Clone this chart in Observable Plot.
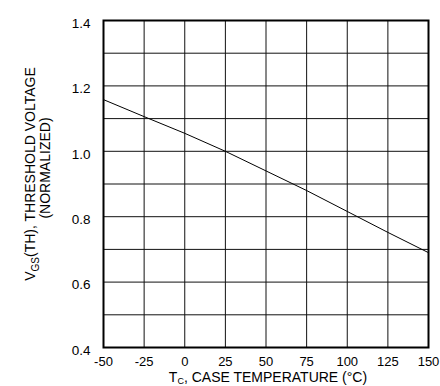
<!DOCTYPE html>
<html><head><meta charset="utf-8">
<script src="https://cdn.jsdelivr.net/npm/d3@7"></script>
<script src="https://cdn.jsdelivr.net/npm/@observablehq/plot@0.6"></script>
<style>body{margin:0;background:#fff} svg{display:block}</style>
</head><body><div id="chart"></div>
<script>
const temps = [-50, -25, 0, 25, 50, 75, 100, 125, 150];
const vth = [1.158, 1.106, 1.055, 1.0, 0.94, 0.88, 0.816, 0.752, 0.69];
const xTicks = [-50, -25, 0, 25, 50, 75, 100, 125, 150];
const yTicks = [0.4, 0.6, 0.8, 1.0, 1.2, 1.4];
const yGrid = [0.4, 0.5, 0.6, 0.7, 0.8, 0.9, 1.0, 1.1, 1.2, 1.3, 1.4];

const data = temps.map((t, i) => ({t, v: vth[i]}));
const font = "'Liberation Sans', Arial, sans-serif";

const svg = Plot.plot({
  width: 440, height: 386,
  marginLeft: 103, marginRight: 12, marginTop: 20, marginBottom: 39,
  style: {fontFamily: font, fontSize: "13px", color: "#000", background: "#fff"},
  x: {domain: [-50, 150]},
  y: {domain: [0.4, 1.4]},
  marks: [
    Plot.gridX(xTicks, {stroke: "#111", strokeOpacity: 1, strokeWidth: 1}),
    Plot.gridY(yGrid, {stroke: "#111", strokeOpacity: 1, strokeWidth: 1}),
    Plot.axisX(xTicks, {tickSize: 0, tickPadding: 9, label: null, fontSize: 13, tickFormat: d => String(d)}),
    Plot.axisY(yTicks, {tickSize: 0, tickPadding: 13, label: null, fontSize: 13.5, tickFormat: d3.format(".1f"), dy: 3}),
    Plot.frame({stroke: "#000", strokeWidth: 2}),
    Plot.line(data, {x: "t", y: "v", stroke: "#000", strokeWidth: 1})
  ]
});
document.getElementById("chart").append(svg);

const s = d3.select(svg);
// x-axis label
const xl = s.append("text")
  .attr("x", 268).attr("y", 382)
  .attr("text-anchor", "middle")
  .attr("font-family", font).attr("font-size", 14).attr("fill", "#000");
xl.append("tspan").text("T");
xl.append("tspan").attr("dy", 2).attr("font-size", 9).text("C");
xl.append("tspan").attr("dy", -2).text(", CASE TEMPERATURE (°C)");

// y-axis label, two lines
const yl1 = s.append("text")
  .attr("transform", "translate(35,174) rotate(-90)")
  .attr("text-anchor", "middle")
  .attr("font-family", font).attr("font-size", 14).attr("fill", "#000");
yl1.append("tspan").text("V");
yl1.append("tspan").attr("dy", 4).attr("font-size", 10).text("GS");
yl1.append("tspan").attr("dy", -4).text("(TH), THRESHOLD VOLTAGE");

s.append("text")
  .attr("transform", "translate(50,168) rotate(-90)")
  .attr("text-anchor", "middle")
  .attr("font-family", font).attr("font-size", 14).attr("fill", "#000")
  .text("(NORMALIZED)");
</script>
</body></html>
